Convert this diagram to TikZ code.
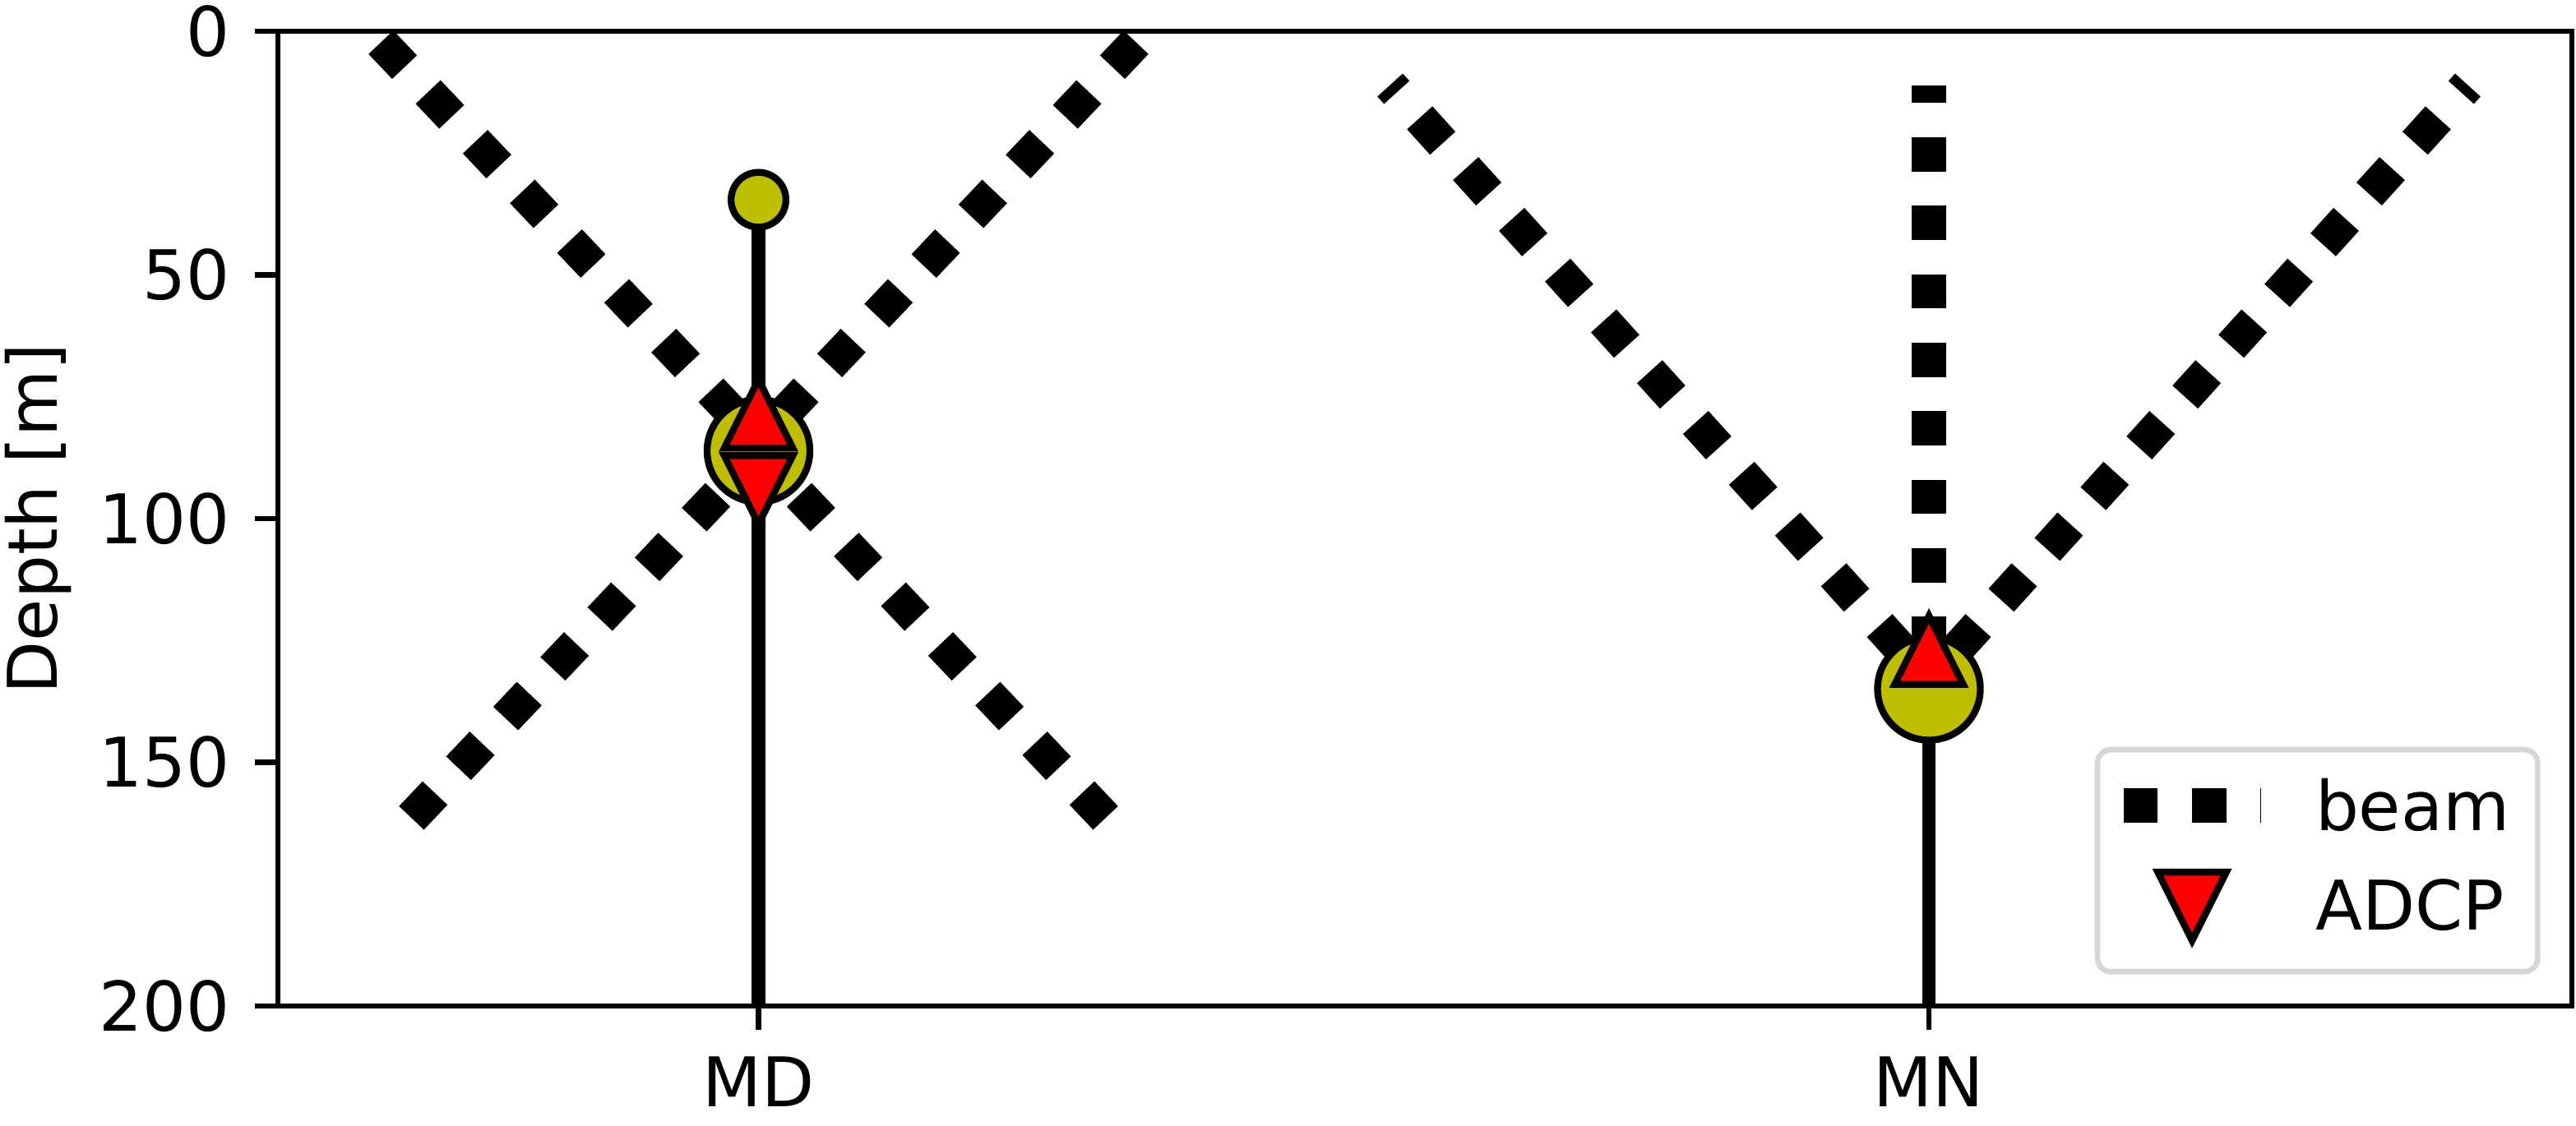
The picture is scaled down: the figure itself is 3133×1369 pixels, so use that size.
\documentclass[tikz,border=0pt]{standalone}
\usepackage{fontspec}
\setmainfont{DejaVu Sans}
\definecolor{buoy}{RGB}{191,191,0}
\definecolor{legframe}{RGB}{214,214,214}
\begin{document}
\begin{tikzpicture}[x=0.12pt, y=-0.12pt, font=\fontsize{10}{12}\selectfont,
  beam/.style={line width=5pt, dash pattern=on 5pt off 5pt, draw=black},
  mooring/.style={line width=2pt, draw=black},
  buoyst/.style={fill=buoy, draw=black, line width=1pt},
  adcp/.style={fill=red, draw=black, line width=1pt, line join=miter},
  spine/.style={line width=0.8pt, draw=black},
  lbl/.style={inner sep=0pt, outer sep=0pt}]
\useasboundingbox (0,0) rectangle (3133,1369);

% key positions
\coordinate (MD) at (922.5,548.5);
\coordinate (MDtop) at (922.5,243);
\coordinate (MDup) at (922.5,503.5);
\coordinate (MDdn) at (922.5,596);
\coordinate (MN) at (2346,838);
\coordinate (MNup) at (2346,791);
\coordinate (botMD) at (922.5,1224);
\coordinate (botMN) at (2346,1224);

\begin{scope}
\clip (338,38) rectangle (3128,1224);
% MD beams
\draw[beam] (893.3,505.1) -- (450.6,38);
\draw[beam] (951.7,505.1) -- (1394.4,38);
\draw[beam] (873,602) -- (487.7,1008.6);
\draw[beam] (972,602) -- (1357.3,1008.6);
% MN beams
\draw[beam] (2346,792) -- (2346,104);
\draw[beam] (2314,792) -- (1690.6,103.5);
\draw[beam] (2378,792) -- (3001.4,103.5);
% moorings
\draw[mooring] (MDtop) -- (botMD);
\draw[mooring] (MN) -- (botMN);
% buoys
\draw[buoyst] (MDtop) circle[radius=4pt];
\draw[buoyst] (MD) circle[radius=7.5pt];
\draw[buoyst] (MN) circle[radius=7.5pt];
% ADCPs
\draw[adcp] ([yshift=5pt]MDup) -- ([xshift=5pt,yshift=-5pt]MDup) -- ([xshift=-5pt,yshift=-5pt]MDup) -- cycle;
\draw[adcp] ([yshift=-5pt]MDdn) -- ([xshift=5pt,yshift=5pt]MDdn) -- ([xshift=-5pt,yshift=5pt]MDdn) -- cycle;
\draw[adcp] ([yshift=5pt]MNup) -- ([xshift=5pt,yshift=-5pt]MNup) -- ([xshift=-5pt,yshift=-5pt]MNup) -- cycle;
\end{scope}

% axes frame and ticks
\draw[spine] (338,38) rectangle (3128,1224);
\foreach \yy/\lab/\nm in {38/0/a, 334.5/50/b, 631/100/c, 927.5/150/d, 1224/200/e}{
  \draw[spine] (309.8,\yy) -- (338,\yy);
  \node[lbl, anchor=east] (ytick\nm) at (280,\yy) {\lab};
}
\draw[spine] (botMD) -- ++(0,29.2);
\draw[spine] (botMN) -- ++(0,29.2);
\node[lbl, anchor=base] (xtickMD) at (922.5,1346) {MD};
\node[lbl, anchor=base] (xtickMN) at (2346,1346) {MN};
\node[lbl, anchor=base, rotate=90] (ylab) at (69.5,631) {Depth [m]};

% legend
\draw[draw=legframe, fill=white, line width=0.8pt, rounded corners=2pt] (2551,912) rectangle (3086.3,1182.3);
\draw[beam] (2582.7,980) -- (2750,980);
\coordinate (LG) at (2666,1102.8);
\draw[adcp] ([yshift=-5pt]LG) -- ([xshift=5pt,yshift=5pt]LG) -- ([xshift=-5pt,yshift=5pt]LG) -- cycle;
\node[lbl, anchor=base west] (lbeam) at (2816,1010) {beam};
\node[lbl, anchor=base west] (ladcp) at (2816,1131.7) {ADCP};
\end{tikzpicture}
\end{document}
